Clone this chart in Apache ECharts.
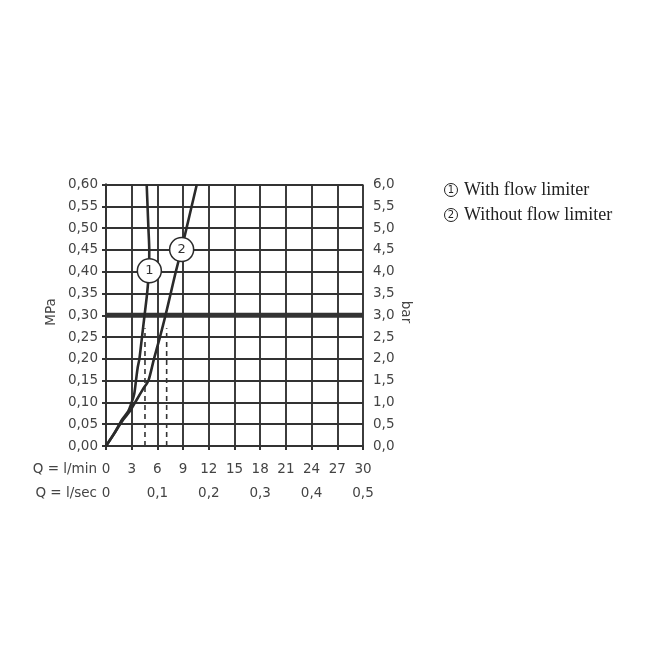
<!DOCTYPE html>
<html>
<head>
<meta charset="utf-8">
<script src="https://cdn.jsdelivr.net/npm/echarts@6/dist/echarts.min.js"></script>
<style>
html,body{margin:0;padding:0;background:#fff;}
#c{width:667px;height:662px;}
</style>
</head>
<body>
<div id="c"></div>
<script>
// Flow rate Q in l/min vs pressure in MPa
var curve1 = [[0,0],[1.0,0.03],[1.85,0.06],[2.6,0.08],[3.0,0.10],[3.3,0.12],[3.5,0.15],[3.7,0.18],[3.9,0.20],[4.2,0.25],[4.5,0.30],[4.8,0.35],[5.0,0.40],[5.05,0.45],[4.95,0.50],[4.85,0.55],[4.75,0.60]];
var curve2 = [[0,0],[1.0,0.03],[2.0,0.06],[2.8,0.08],[3.4,0.10],[4.3,0.13],[4.95,0.15],[5.6,0.20],[6.3,0.25],[6.95,0.30],[7.55,0.35],[8.15,0.40],[8.8,0.45],[9.4,0.50],[10.0,0.55],[10.6,0.60]];
var dashed1 = [[4.55,0],[4.55,0.27]];
var dashed2 = [[7.08,0],[7.08,0.27]];
var refLine = [[0,0.30],[30,0.30]];
var markers = [[5.06,0.402,'1'],[8.83,0.451,'2']];
var legendItems = ['With flow limiter','Without flow limiter'];
var axisTitles = {left:'MPa', right:'bar', q1:'Q = l/min', q2:'Q = l/sec'};

var dark = '#333';
var txt = '#444';
var font = 'DejaVu Sans';
function comma(v, d){ return v.toFixed(d).replace('.', ','); }

var chart = echarts.init(document.getElementById('c'));
var graphics = [
  {type:'text', x:51, y:312, rotation:Math.PI/2, style:{text:axisTitles.left, fill:txt, font:'13.5px "DejaVu Sans"', textAlign:'center', textVerticalAlign:'middle'}},
  {type:'text', x:405, y:312, rotation:-Math.PI/2, style:{text:axisTitles.right, fill:txt, font:'13.5px "DejaVu Sans"', textAlign:'center', textVerticalAlign:'middle'}},
  {type:'text', x:97, y:469, style:{text:axisTitles.q1, fill:txt, font:'13.5px "DejaVu Sans"', textAlign:'right', textVerticalAlign:'middle'}},
  {type:'text', x:97, y:493, style:{text:axisTitles.q2, fill:txt, font:'13.5px "DejaVu Sans"', textAlign:'right', textVerticalAlign:'middle'}}
];
legendItems.forEach(function(t, i){
  var cy = 190 + i*25;
  graphics.push({type:'circle', shape:{cx:451, cy:cy, r:6.5}, style:{fill:'#fff', stroke:'#222', lineWidth:1}});
  graphics.push({type:'text', x:451, y:cy, style:{text:String(i+1), fill:'#222', font:'10px "DejaVu Sans"', textAlign:'center', textVerticalAlign:'middle'}});
  graphics.push({type:'text', x:464, y:cy, style:{text:t, fill:'#222', font:'18px "Liberation Serif"', textAlign:'left', textVerticalAlign:'middle'}});
});

var option = {
  animation:false,
  backgroundColor:'#fff',
  grid:{left:106, right:304, top:184.5, bottom:216, containLabel:false},
  xAxis:[
    {type:'value', min:0, max:30, interval:3, position:'bottom',
     axisLine:{show:true, lineStyle:{color:dark, width:2}},
     axisTick:{show:true, inside:false, length:4, lineStyle:{color:dark, width:2}},
     splitLine:{show:true, lineStyle:{color:dark, width:1.9}},
     axisLabel:{margin:16, color:txt, fontFamily:font, fontSize:13.5, formatter:function(v){return String(v);}}},
    {type:'value', min:0, max:0.5, interval:0.1, position:'bottom', offset:24,
     axisLine:{show:false}, axisTick:{show:false}, splitLine:{show:false},
     axisLabel:{margin:16, color:txt, fontFamily:font, fontSize:13.5, formatter:function(v){return v===0?'0':comma(v,1);}}}
  ],
  yAxis:[
    {type:'value', min:0, max:0.6, interval:0.05, position:'left',
     axisLine:{show:true, lineStyle:{color:dark, width:2}},
     axisTick:{show:true, inside:false, length:4, lineStyle:{color:dark, width:2}},
     splitLine:{show:true, lineStyle:{color:dark, width:1.9}},
     axisLabel:{margin:8, color:txt, fontFamily:font, fontSize:13.5, formatter:function(v){return comma(v,2);}}},
    {type:'value', min:0, max:6, interval:0.5, position:'right',
     axisLine:{show:true, lineStyle:{color:dark, width:2}},
     axisTick:{show:true, inside:false, length:4, lineStyle:{color:dark, width:2}},
     splitLine:{show:false},
     axisLabel:{margin:10, color:txt, fontFamily:font, fontSize:13.5, formatter:function(v){return comma(v,1);}}}
  ],
  series:[
    {type:'line', data:refLine, symbol:'none', lineStyle:{color:dark, width:5}, z:3},
    {type:'line', data:dashed1, symbol:'none', lineStyle:{color:'#333', width:1.6, type:[5,4]}, z:4},
    {type:'line', data:dashed2, symbol:'none', lineStyle:{color:'#333', width:1.6, type:[5,4]}, z:4},
    {type:'line', data:curve1, symbol:'none', smooth:0.25, lineStyle:{color:'#2a2a2a', width:2.6}, z:5},
    {type:'line', data:curve2, symbol:'none', smooth:0.25, lineStyle:{color:'#2a2a2a', width:2.6}, z:5},
    {type:'scatter', data:markers, symbol:'circle', symbolSize:24, z:6,
     itemStyle:{color:'#fff', borderColor:'#2a2a2a', borderWidth:1.5, opacity:1},
     label:{show:true, position:'inside', formatter:function(p){return p.data[2];}, color:'#333', fontFamily:font, fontSize:13}}
  ],
  graphic:graphics
};
chart.setOption(option);
</script>
</body>
</html>
